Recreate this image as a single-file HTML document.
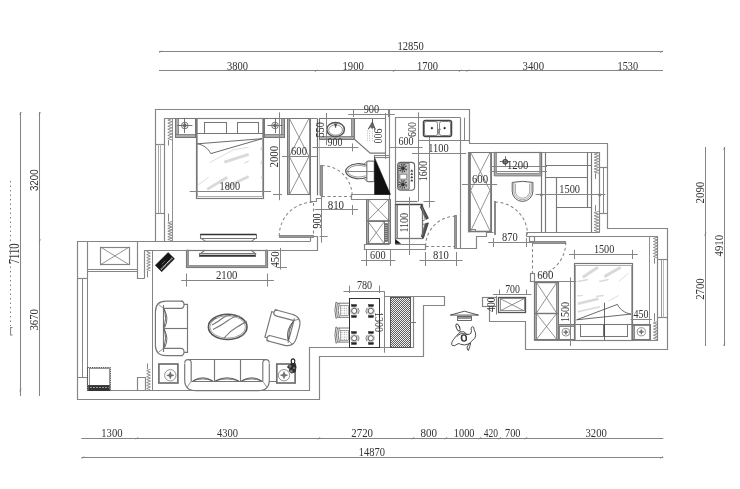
<!DOCTYPE html>
<html lang="zh">
<head>
<meta charset="utf-8">
<title>Floor plan</title>
<style>
html,body{margin:0;padding:0;background:#fff;}
body{width:740px;height:489px;overflow:hidden;}
svg{display:block;filter:grayscale(1);}
</style>
</head>
<body>
<svg width="740" height="489" viewBox="0 0 740 489" fill="none" stroke="#858585" stroke-width="1.17" font-family="Liberation Serif, serif" font-size="10.5">
<defs><pattern id="hatch" x="0" y="0" width="2" height="2" patternUnits="userSpaceOnUse"><rect width="2" height="2" fill="#5e5e5e" stroke="none"/><rect x="0" y="0" width="1" height="1" fill="#eee" stroke="none"/><rect x="1" y="1" width="1" height="1" fill="#eee" stroke="none"/></pattern><pattern id="dots" width="2.4" height="2.4" patternUnits="userSpaceOnUse"><rect x="0.6" y="0.6" width="0.9" height="0.9" fill="#777" stroke="none"/></pattern></defs>
<line x1="159" y1="51.5" x2="663" y2="51.5" stroke-width="1.04"/>
<line x1="159" y1="70.5" x2="663" y2="70.5" stroke-width="1.04"/>
<line x1="314.8" y1="72" x2="317.2" y2="69.6" stroke="#777" stroke-width="0.7"/>
<line x1="392.8" y1="72" x2="395.2" y2="69.6" stroke="#777" stroke-width="0.7"/>
<line x1="458.8" y1="72" x2="461.2" y2="69.6" stroke="#777" stroke-width="0.7"/>
<line x1="466.3" y1="72" x2="468.7" y2="69.6" stroke="#777" stroke-width="0.7"/>
<line x1="159.3" y1="53" x2="161.7" y2="50.6" stroke="#777" stroke-width="0.7"/>
<line x1="660.3" y1="53" x2="662.7" y2="50.6" stroke="#777" stroke-width="0.7"/>
<text stroke="none" fill="#333" x="397.5" y="50.05" textLength="26.3" lengthAdjust="spacingAndGlyphs" font-size="12.3">12850</text>
<text stroke="none" fill="#333" x="227" y="69.85" textLength="21" lengthAdjust="spacingAndGlyphs" font-size="12.3">3800</text>
<text stroke="none" fill="#333" x="342.5" y="69.85" textLength="21.3" lengthAdjust="spacingAndGlyphs" font-size="12.3">1900</text>
<text stroke="none" fill="#333" x="417" y="69.85" textLength="21" lengthAdjust="spacingAndGlyphs" font-size="12.3">1700</text>
<text stroke="none" fill="#333" x="522.5" y="69.85" textLength="21.5" lengthAdjust="spacingAndGlyphs" font-size="12.3">3400</text>
<text stroke="none" fill="#333" x="617.5" y="69.85" textLength="20.5" lengthAdjust="spacingAndGlyphs" font-size="12.3">1530</text>
<line x1="81.3" y1="438.5" x2="663.3" y2="438.5" stroke-width="1.04"/>
<line x1="81.3" y1="457.5" x2="663.3" y2="457.5" stroke-width="1.04"/>
<line x1="135.8" y1="439.4" x2="138.2" y2="437" stroke="#777" stroke-width="0.7"/>
<line x1="317.8" y1="439.4" x2="320.2" y2="437" stroke="#777" stroke-width="0.7"/>
<line x1="411.8" y1="439.4" x2="414.2" y2="437" stroke="#777" stroke-width="0.7"/>
<line x1="444.8" y1="439.4" x2="447.2" y2="437" stroke="#777" stroke-width="0.7"/>
<line x1="478.8" y1="439.4" x2="481.2" y2="437" stroke="#777" stroke-width="0.7"/>
<line x1="498.8" y1="439.4" x2="501.2" y2="437" stroke="#777" stroke-width="0.7"/>
<line x1="524.8" y1="439.4" x2="527.2" y2="437" stroke="#777" stroke-width="0.7"/>
<line x1="81.8" y1="458.7" x2="84.2" y2="456.3" stroke="#777" stroke-width="0.7"/>
<line x1="660.3" y1="458.7" x2="662.7" y2="456.3" stroke="#777" stroke-width="0.7"/>
<text stroke="none" fill="#333" x="101.3" y="436.65" textLength="21.2" lengthAdjust="spacingAndGlyphs" font-size="12.3">1300</text>
<text stroke="none" fill="#333" x="217" y="436.65" textLength="21" lengthAdjust="spacingAndGlyphs" font-size="12.3">4300</text>
<text stroke="none" fill="#333" x="351.3" y="436.65" textLength="21.7" lengthAdjust="spacingAndGlyphs" font-size="12.3">2720</text>
<text stroke="none" fill="#333" x="420.5" y="436.65" textLength="16.5" lengthAdjust="spacingAndGlyphs" font-size="12.3">800</text>
<text stroke="none" fill="#333" x="453.8" y="436.65" textLength="20.7" lengthAdjust="spacingAndGlyphs" font-size="12.3">1000</text>
<text stroke="none" fill="#333" x="483.8" y="436.65" textLength="14.2" lengthAdjust="spacingAndGlyphs" font-size="12.3">420</text>
<text stroke="none" fill="#333" x="505" y="436.65" textLength="15.5" lengthAdjust="spacingAndGlyphs" font-size="12.3">700</text>
<text stroke="none" fill="#333" x="585.5" y="436.65" textLength="21.3" lengthAdjust="spacingAndGlyphs" font-size="12.3">3200</text>
<text stroke="none" fill="#333" x="358.8" y="455.65" textLength="26.2" lengthAdjust="spacingAndGlyphs" font-size="12.3">14870</text>
<line x1="20.5" y1="112" x2="20.5" y2="396" stroke-width="1.04"/>
<line x1="39.5" y1="112" x2="39.5" y2="396" stroke-width="1.04"/>
<line x1="19.2" y1="114.7" x2="21.6" y2="112.3" stroke="#777" stroke-width="0.7"/>
<line x1="38.7" y1="114.7" x2="41.1" y2="112.3" stroke="#777" stroke-width="0.7"/>
<line x1="38.7" y1="241.7" x2="41.1" y2="239.3" stroke="#777" stroke-width="0.7"/>
<line x1="19.2" y1="391.2" x2="21.6" y2="388.8" stroke="#777" stroke-width="0.7"/>
<text stroke="none" fill="#333" transform="translate(38 191.1) rotate(-90)" textLength="21.7" lengthAdjust="spacingAndGlyphs" font-size="11.4" font-family="Liberation Sans, sans-serif">3200</text>
<text stroke="none" fill="#333" transform="translate(37.92 330.6) rotate(-90)" textLength="21.6" lengthAdjust="spacingAndGlyphs" font-size="12.3">3670</text>
<text stroke="none" fill="#333" transform="translate(19.29 264.3) rotate(-90)" textLength="20.8" lengthAdjust="spacingAndGlyphs" font-size="14">7110</text>
<line x1="10.5" y1="181" x2="10.5" y2="326" stroke="#6a6a6a" stroke-width="0.9" stroke-dasharray="1.4 3.1"/>
<path d="M12.5 327.5H10.6V335H12.5" stroke-width="1.04"/>
<line x1="705.5" y1="147" x2="705.5" y2="346" stroke-width="1.04"/>
<line x1="724.5" y1="147" x2="724.5" y2="346" stroke-width="1.04"/>
<line x1="722.9" y1="149.7" x2="725.3" y2="147.3" stroke="#777" stroke-width="0.7"/>
<line x1="722.9" y1="345.7" x2="725.3" y2="343.3" stroke="#777" stroke-width="0.7"/>
<line x1="704.1" y1="235.4" x2="706.5" y2="233" stroke="#777" stroke-width="0.7"/>
<text stroke="none" fill="#333" transform="translate(704.12 203.4) rotate(-90)" textLength="21.7" lengthAdjust="spacingAndGlyphs" font-size="12.3">2090</text>
<text stroke="none" fill="#333" transform="translate(722.92 256.4) rotate(-90)" textLength="21.4" lengthAdjust="spacingAndGlyphs" font-size="12.3">4910</text>
<text stroke="none" fill="#333" transform="translate(704.12 299.8) rotate(-90)" textLength="21.4" lengthAdjust="spacingAndGlyphs" font-size="12.3">2700</text>
<polyline points="155.5,241.5 155.5,109.5 469.5,109.5 469.5,143.5 607.5,143.5 607.5,228.5 667.5,228.5 667.5,349.5 525.5,349.5 525.5,321.5 489.5,321.5 489.5,306.5"/>
<polyline points="384.5,296.5 444.5,296.5 444.5,305.5 423.5,305.5 423.5,356.5 319.5,356.5 319.5,399.5 77.5,399.5 77.5,241.5 310.5,241.5"/>
<polyline points="87.5,390.5 309.5,390.5 309.5,347.5 413.5,347.5 413.5,296.5"/>
<polyline points="164.5,241.5 164.5,118.5 317.5,118.5"/>
<line x1="317.5" y1="118.4" x2="317.5" y2="195.3" stroke="#707070" stroke-width="1.2"/>
<line x1="319.5" y1="118.4" x2="319.5" y2="195.3" stroke="#c4c4c4" stroke-width="1"/>
<polyline points="310.5,194.5 310.5,201.5 316.5,201.5 316.5,198.5 321.5,198.5 321.5,195.5"/>
<polyline points="144.5,278.5 144.5,250.5 317.5,250.5 317.5,236.5 310.5,236.5 310.5,241.5"/>
<line x1="155.5" y1="144.5" x2="164.4" y2="144.5"/>
<line x1="155.5" y1="213.5" x2="164.4" y2="213.5"/>
<line x1="158.5" y1="144.2" x2="158.5" y2="213.3" stroke="#a8a8a8" stroke-width="1"/>
<line x1="160.5" y1="144.2" x2="160.5" y2="213.3" stroke="#b4b4b4" stroke-width="1"/>
<line x1="319.2" y1="118.5" x2="385" y2="118.5"/>
<line x1="385.5" y1="118.4" x2="385.5" y2="155.6"/>
<line x1="389.5" y1="109.4" x2="389.5" y2="244.4"/>
<polyline points="374.5,157.5 374.5,155.5 389.5,155.5"/>
<line x1="374.5" y1="157.5" x2="389.3" y2="157.5"/>
<polyline points="389.5,194.5 351.5,194.5 351.5,199.5 389.5,199.5"/>
<line x1="395.5" y1="117.7" x2="395.5" y2="244.4"/>
<line x1="395" y1="117.5" x2="460.4" y2="117.5"/>
<line x1="460.5" y1="117.7" x2="460.5" y2="248.5"/>
<line x1="464.5" y1="117.7" x2="464.5" y2="140.9" stroke-width="1.04"/>
<line x1="418.1" y1="140.5" x2="469.4" y2="140.5"/>
<polyline points="389.5,244.5 364.5,244.5 364.5,249.5 425.5,249.5 425.5,244.5 395.5,244.5"/>
<line x1="425.7" y1="246.5" x2="454.9" y2="246.5" stroke-width="1.04" stroke-dasharray="3 2.5"/>
<polyline points="456.5,248.5 476.5,248.5 476.5,236.5 486.5,236.5 486.5,232.5 493.5,232.5"/>
<polyline points="468.5,232.5 468.5,152.5 599.5,152.5 599.5,232.5"/>
<line x1="526.5" y1="232.5" x2="599.7" y2="232.5"/>
<line x1="526.5" y1="236.5" x2="657.9" y2="236.5"/>
<line x1="526.5" y1="232.6" x2="526.5" y2="236.7"/>
<line x1="599.7" y1="167.5" x2="607.7" y2="167.5"/>
<line x1="599.7" y1="213.5" x2="607.7" y2="213.5"/>
<line x1="603.5" y1="167.3" x2="603.5" y2="213" stroke-width="1.04"/>
<polyline points="657.5,236.5 657.5,340.5 534.5,340.5 534.5,281.5"/>
<rect x="529.5" y="236.5" width="5" height="5"/>
<rect x="530.5" y="273.5" width="4" height="8"/>
<line x1="532.5" y1="243.4" x2="532.5" y2="273.8" stroke-width="1.04" stroke-dasharray="3 2.5"/>
<line x1="657.9" y1="259.5" x2="667.4" y2="259.5"/>
<line x1="657.9" y1="317.5" x2="667.4" y2="317.5"/>
<line x1="661.5" y1="259.9" x2="661.5" y2="317.4" stroke="#999" stroke-width="1"/>
<line x1="663.5" y1="259.9" x2="663.5" y2="317.4" stroke="#bbb" stroke-width="1"/>
<rect x="482.5" y="297.5" width="14" height="9"/>
<line x1="87.5" y1="241.2" x2="87.5" y2="278.1"/>
<line x1="77.8" y1="278.5" x2="87.6" y2="278.5"/>
<line x1="82.5" y1="278.1" x2="82.5" y2="377.4" stroke-width="1.04"/>
<line x1="87.5" y1="278.1" x2="87.5" y2="377.4" stroke-width="1.04"/>
<polyline points="77.5,377.5 87.5,377.5 87.5,390.5"/>
<line x1="87.6" y1="269.5" x2="137.4" y2="269.5"/>
<line x1="87.6" y1="271.5" x2="137.4" y2="271.5"/>
<polyline points="137.5,241.5 137.5,278.5 144.5,278.5"/>
<polyline points="137.5,390.5 137.5,377.5 145.5,377.5 145.5,390.5"/>
<line x1="152.5" y1="250" x2="152.5" y2="390.3" stroke-width="1.04"/>
<rect x="100.5" y="247.5" width="29" height="17"/>
<line x1="100.6" y1="247.1" x2="129.1" y2="264.7" stroke="#777" stroke-width="0.8"/>
<line x1="100.6" y1="264.7" x2="129.1" y2="247.1" stroke="#777" stroke-width="0.8"/>
<polyline points="172,118.6 167.8,120.13 172,121.66 167.8,123.19 172,124.71 167.8,126.24 172,127.77 167.8,129.3 172,130.83 167.8,132.36 172,133.89 167.8,135.41 172,136.94 167.8,138.47 172,140" stroke-width="0.91"/>
<line x1="168.5" y1="140" x2="168.5" y2="145.5" stroke-width="1.04"/>
<polyline points="172,221.5 167.8,222.88 172,224.26 167.8,225.64 172,227.01 167.8,228.39 172,229.77 167.8,231.15 172,232.53 167.8,233.91 172,235.29 167.8,236.66 172,238.04 167.8,239.42 172,240.8" stroke-width="0.91"/>
<line x1="168.5" y1="213.6" x2="168.5" y2="221.5" stroke-width="1.04"/>
<line x1="172.5" y1="118.4" x2="172.5" y2="241.2" stroke-width="0.91"/>
<polyline points="598.8,152.8 594.2,154.26 598.8,155.73 594.2,157.19 598.8,158.66 594.2,160.12 598.8,161.59 594.2,163.05 598.8,164.51 594.2,165.98 598.8,167.44 594.2,168.91 598.8,170.37 594.2,171.84 598.8,173.3" stroke-width="0.91"/>
<line x1="595.5" y1="173.3" x2="595.5" y2="179" stroke-width="1.04"/>
<polyline points="598.8,211.3 594.2,212.78 598.8,214.26 594.2,215.74 598.8,217.21 594.2,218.69 598.8,220.17 594.2,221.65 598.8,223.13 594.2,224.61 598.8,226.09 594.2,227.56 598.8,229.04 594.2,230.52 598.8,232" stroke-width="0.91"/>
<line x1="595.5" y1="205.1" x2="595.5" y2="211.3" stroke-width="1.04"/>
<polyline points="657.6,237 653.4,238.49 657.6,239.99 653.4,241.48 657.6,242.97 653.4,244.46 657.6,245.96 653.4,247.45 657.6,248.94 653.4,250.44 657.6,251.93 653.4,253.42 657.6,254.91 653.4,256.41 657.6,257.9" stroke-width="0.91"/>
<line x1="654.5" y1="257.9" x2="654.5" y2="263.7" stroke-width="1.04"/>
<polyline points="657.6,321.5 653.4,323.02 657.6,324.55 653.4,326.07 657.6,327.6 653.4,329.12 657.6,330.65 653.4,332.18 657.6,333.7 653.4,335.23 657.6,336.75 653.4,338.28 657.6,339.8" stroke-width="0.91"/>
<line x1="654.5" y1="313.3" x2="654.5" y2="321.5" stroke-width="1.04"/>
<line x1="649.5" y1="236.7" x2="649.5" y2="340.2" stroke-width="0.91"/>
<polyline points="150.4,250.2 146.7,251.67 150.4,253.14 146.7,254.61 150.4,256.09 146.7,257.56 150.4,259.03 146.7,260.5 150.4,261.97 146.7,263.44 150.4,264.91 146.7,266.39 150.4,267.86 146.7,269.33 150.4,270.8" stroke-width="0.91"/>
<line x1="147.5" y1="270.8" x2="147.5" y2="277.3" stroke-width="1.04"/>
<polyline points="150.4,369.2 146.7,370.68 150.4,372.16 146.7,373.64 150.4,375.11 146.7,376.59 150.4,378.07 146.7,379.55 150.4,381.03 146.7,382.51 150.4,383.99 146.7,385.46 150.4,386.94 146.7,388.42 150.4,389.9" stroke-width="0.91"/>
<line x1="147.5" y1="363.5" x2="147.5" y2="369.2" stroke-width="1.04"/>
<rect x="279.5" y="235.5" width="34" height="2" stroke-width="0.91" fill="#999"/>
<path d="M279.2 236 A33.8 33.8 0 0 1 313 202.2" stroke-width="1.04" stroke-dasharray="3 2.5"/>
<line x1="313.5" y1="203" x2="313.5" y2="235" stroke-width="1.04" stroke-dasharray="3 2.5"/>
<rect x="320.5" y="165.5" width="2" height="30" stroke-width="0.91" fill="#999"/>
<path d="M321.7 165.5 A30.5 30.5 0 0 1 352.2 196" stroke-width="1.04" stroke-dasharray="3 2.5"/>
<line x1="322" y1="196.5" x2="351.5" y2="196.5" stroke-width="1.04" stroke-dasharray="3 2.5"/>
<rect x="454.5" y="215.5" width="2" height="33" stroke-width="0.91" fill="#999"/>
<path d="M455.6 216.3 A30 30 0 0 0 425.6 246.3" stroke-width="1.04" stroke-dasharray="3 2.5"/>
<rect x="494.5" y="201.5" width="1" height="33" stroke-width="0.91" fill="#999"/>
<path d="M495 202.1 A32.5 32.5 0 0 1 527.5 234.6" stroke-width="1.04" stroke-dasharray="3 2.5"/>
<rect x="532.5" y="241.5" width="33" height="2" stroke-width="0.91" fill="#999"/>
<path d="M565.8 242.4 A33.5 33.5 0 0 1 539.27 275.17" stroke-width="1.04" stroke-dasharray="3 2.5"/>
<g stroke="#777">
<rect x="175.5" y="118.5" width="3" height="19" stroke-width="0.78" fill="#ababab"/>
<rect x="175.5" y="134.5" width="20" height="3" stroke-width="0.78" fill="#ababab"/>
<rect x="175.5" y="118.5" width="20" height="19" stroke-width="1.04"/>
<circle cx="184.8" cy="125.5" r="3.3" stroke="#666" stroke-width="0.9"/>
<circle cx="184.8" cy="125.5" r="1.48" stroke="#555" stroke-width="0.8" fill="#666"/>
<line x1="177.2" y1="125.5" x2="192.4" y2="125.5" stroke="#666" stroke-width="0.9"/>
<line x1="184.5" y1="117.9" x2="184.5" y2="133.1" stroke="#666" stroke-width="0.9"/>
<rect x="281.5" y="118.5" width="3" height="19" stroke-width="0.78" fill="#ababab"/>
<rect x="264.5" y="134.5" width="20" height="3" stroke-width="0.78" fill="#ababab"/>
<rect x="264.5" y="118.5" width="20" height="19" stroke-width="1.04"/>
<circle cx="275" cy="125.5" r="3.3" stroke="#666" stroke-width="0.9"/>
<circle cx="275" cy="125.5" r="1.48" stroke="#555" stroke-width="0.8" fill="#666"/>
<line x1="267.4" y1="125.5" x2="282.6" y2="125.5" stroke="#666" stroke-width="0.9"/>
<line x1="275.5" y1="117.9" x2="275.5" y2="133.1" stroke="#666" stroke-width="0.9"/>
<rect x="196.5" y="118.5" width="67" height="80" stroke-width="1.17"/>
<rect x="197.5" y="118.5" width="65" height="78" stroke="#888" stroke-width="0.7"/>
<line x1="196.3" y1="133.5" x2="263.3" y2="133.5"/>
<rect x="204.5" y="122.5" width="22" height="11" stroke-width="1.04"/>
<rect x="237.5" y="122.5" width="21" height="11" stroke-width="1.04"/>
<path d="M197.6 143.8 L262 138.7 L210.8 153.6 C207.5 147.5 203 145 197.6 143.8Z" stroke="#444" stroke-width="0.8"/>
<line x1="209.3" y1="162.9" x2="232.9" y2="150" stroke="#d9d9d9" stroke-width="0.9"/>
<line x1="232.9" y1="150" x2="248.7" y2="147.2" stroke="#d9d9d9" stroke-width="0.9"/>
<line x1="224.3" y1="162.2" x2="248.7" y2="154.3" stroke="#d9d9d9" stroke-width="2.8"/>
<line x1="244.4" y1="163.2" x2="248.7" y2="161" stroke="#d9d9d9" stroke-width="1.2"/>
<line x1="197.9" y1="185.1" x2="208.6" y2="177.2" stroke="#d9d9d9" stroke-width="0.9"/>
<line x1="207.2" y1="189.4" x2="227.2" y2="177.2" stroke="#d9d9d9" stroke-width="2.8"/>
<line x1="225.8" y1="187.2" x2="248.7" y2="176.5" stroke="#d9d9d9" stroke-width="2.8"/>
<line x1="260.8" y1="150" x2="262" y2="146.5" stroke="#d9d9d9" stroke-width="1.2"/>
<line x1="260.8" y1="164" x2="262" y2="160.5" stroke="#d9d9d9" stroke-width="1.2"/>
<line x1="261" y1="178.5" x2="262" y2="176" stroke="#d9d9d9" stroke-width="1.2"/>
<rect x="200.5" y="234.5" width="56" height="4" stroke-width="1.04"/>
<line x1="200.4" y1="234.5" x2="256.2" y2="234.5" stroke="#333" stroke-width="1.3"/>
<polyline points="201.5,238.6 205.4,241.2 251.6,241.2 255.2,238.6" stroke-width="1.04"/>
<rect x="287.5" y="118.5" width="2" height="76" stroke-width="0.78" fill="#ababab"/>
<rect x="309.5" y="118.5" width="1" height="76" stroke-width="0.78" fill="#ababab"/>
<rect x="287.5" y="118.5" width="23" height="76" stroke-width="1.04"/>
<line x1="289.3" y1="118.4" x2="309" y2="156.4" stroke="#777" stroke-width="0.8"/>
<line x1="289.3" y1="156.4" x2="309" y2="118.4" stroke="#777" stroke-width="0.8"/>
<line x1="289.3" y1="156.4" x2="309" y2="194.8" stroke="#777" stroke-width="0.8"/>
<line x1="289.3" y1="194.8" x2="309" y2="156.4" stroke="#777" stroke-width="0.8"/>
<rect x="351.5" y="118.5" width="3" height="21" stroke-width="0.78" fill="#ababab"/>
<rect x="319.5" y="136.5" width="35" height="3" stroke-width="0.78" fill="#ababab"/>
<rect x="319.5" y="118.5" width="35" height="21" stroke-width="1.04"/>
<ellipse cx="335.6" cy="129.5" rx="8.8" ry="7.1" stroke="#555" stroke-width="1.5"/>
<ellipse cx="335.6" cy="130" rx="6.9" ry="5.2" stroke-width="0.78"/>
<polygon points="334.4,123.8 336.8,123.8 335.6,128" stroke="#444" stroke-width="0.4" fill="#444"/>
<polyline points="354.4,118.4 354.4,139.2 370.2,153.1 385,153.1" stroke-width="1.17"/>
<line x1="372.5" y1="119" x2="372.5" y2="125" stroke="#555" stroke-width="0.9"/>
<polygon points="372.4,121.8 368.2,129.2 370.4,127 372.4,128.6 374.2,127 375.2,129.2" stroke="#444" stroke-width="0.7" fill="#666"/>
<line x1="367.5" y1="130.5" x2="367.5" y2="141" stroke="#c4c4c4" stroke-width="1" stroke-dasharray="1.2 1.2"/>
<line x1="369.5" y1="130.5" x2="369.5" y2="141" stroke="#c4c4c4" stroke-width="1" stroke-dasharray="1.2 1.2"/>
<line x1="372.5" y1="130.5" x2="372.5" y2="141" stroke="#c4c4c4" stroke-width="1" stroke-dasharray="1.2 1.2"/>
<path d="M366.8 165.2 C360 162.6 352.5 163.4 348.6 166.6 Q345.6 169 345.6 171.1 Q345.6 173.4 348.6 175.8 C352.5 179 360 179.8 366.8 177.2" stroke="#555" stroke-width="1.2"/>
<path d="M365.6 166.6 C359.5 164.6 353.5 165.2 350 167.8 Q347.6 169.6 347.6 171.1 Q347.6 172.8 350 174.6 C353.5 177.2 359.5 177.8 365.6 175.8" stroke-width="0.78"/>
<line x1="345.6" y1="171.5" x2="374.3" y2="171.5" stroke-width="0.91"/>
<rect x="366.8" y="161.2" width="7.5" height="20.5" stroke-width="1.17" rx="1.2"/>
<path d="M363.4 164.2 L366.8 161.8 M363.4 178.2 L366.8 181" stroke-width="0.91"/>
<polygon points="374.5,157.5 374.5,194.5 390.5,194.5" stroke="#111" stroke-width="0.5" fill="#111"/>
<rect x="366.5" y="199.5" width="2" height="44" stroke-width="0.78" fill="#ababab"/>
<rect x="388.5" y="199.5" width="2" height="44" stroke-width="0.78" fill="#ababab"/>
<rect x="366.5" y="199.5" width="24" height="44" stroke-width="1.04"/>
<rect x="366.5" y="220.5" width="24" height="1" stroke-width="0.78" fill="#ababab"/>
<line x1="368.2" y1="199.6" x2="388.2" y2="220" stroke="#777" stroke-width="0.8"/>
<line x1="368.2" y1="220" x2="388.2" y2="199.6" stroke="#777" stroke-width="0.8"/>
<rect x="368.5" y="221.5" width="16" height="22" stroke-width="0.91"/>
<line x1="368.2" y1="221.8" x2="384.2" y2="243.5" stroke="#777" stroke-width="0.8"/>
<line x1="368.2" y1="243.5" x2="384.2" y2="221.8" stroke="#777" stroke-width="0.8"/>
<rect x="384.5" y="223.5" width="3" height="18" stroke-width="0.78" fill="#aaa"/>
<line x1="384.6" y1="224.5" x2="387.6" y2="224.5" stroke="#444" stroke-width="0.6"/>
<line x1="384.6" y1="226.5" x2="387.6" y2="226.5" stroke="#444" stroke-width="0.6"/>
<line x1="384.6" y1="228.5" x2="387.6" y2="228.5" stroke="#444" stroke-width="0.6"/>
<line x1="384.6" y1="230.5" x2="387.6" y2="230.5" stroke="#444" stroke-width="0.6"/>
<line x1="384.6" y1="232.5" x2="387.6" y2="232.5" stroke="#444" stroke-width="0.6"/>
<line x1="384.6" y1="234.5" x2="387.6" y2="234.5" stroke="#444" stroke-width="0.6"/>
<line x1="384.6" y1="236.5" x2="387.6" y2="236.5" stroke="#444" stroke-width="0.6"/>
<line x1="384.6" y1="238.5" x2="387.6" y2="238.5" stroke="#444" stroke-width="0.6"/>
<line x1="384.6" y1="240.5" x2="387.6" y2="240.5" stroke="#444" stroke-width="0.6"/>
<polyline points="395.5,201.5 417.5,201.5" stroke-width="1.17"/>
<rect x="423.5" y="120.5" width="28" height="16" stroke="#444" stroke-width="1.5" rx="2"/>
<rect x="424.5" y="121.5" width="13" height="14" stroke-width="0.91" rx="2"/>
<rect x="439.5" y="121.5" width="11" height="14" stroke-width="0.91" rx="2"/>
<circle cx="431.9" cy="128.1" r="0.9" stroke="#111" stroke-width="0.4" fill="#111"/>
<circle cx="444.6" cy="128.1" r="0.9" stroke="#111" stroke-width="0.4" fill="#111"/>
<path d="M438.3 134.5 V130.5 C438.3 128.3 440.3 128 440.6 129.6" stroke="#666" stroke-width="0.9"/>
<rect x="397.6" y="162.4" width="17" height="27.9" stroke="#666" stroke-width="1.1" rx="3.2"/>
<path d="M409.2 163.4 H400.6 Q398.6 163.4 398.6 165.4 V187.3 Q398.6 189.3 400.6 189.3 H409.2Z" stroke="#666" stroke-width="0.8" fill="#c4c4c4"/>
<circle cx="402.9" cy="168.2" r="3.6" stroke="#444" stroke-width="1.6" fill="#8a8a8a"/>
<circle cx="402.9" cy="168.2" r="1.5" stroke="#222" stroke-width="0.5" fill="#333"/>
<circle cx="402.9" cy="168.2" r="3.6" stroke="#ddd" stroke-width="1.6" stroke-dasharray="0.9 1.4"/>
<circle cx="402.9" cy="184.4" r="3.6" stroke="#444" stroke-width="1.6" fill="#8a8a8a"/>
<circle cx="402.9" cy="184.4" r="1.5" stroke="#222" stroke-width="0.5" fill="#333"/>
<circle cx="402.9" cy="184.4" r="3.6" stroke="#ddd" stroke-width="1.6" stroke-dasharray="0.9 1.4"/>
<rect x="399.9" y="174.2" width="6.9" height="4.9" stroke="#666" stroke-width="0.7" fill="#fff"/>
<polygon points="410.6,171.6 411.8,169.6 413,171.6" stroke="#333" stroke-width="0.3" fill="#333"/>
<polygon points="410.6,174.8 411.8,172.8 413,174.8" stroke="#333" stroke-width="0.3" fill="#333"/>
<polygon points="410.6,178 411.8,176 413,178" stroke="#333" stroke-width="0.3" fill="#333"/>
<polygon points="410.6,181.2 411.8,179.2 413,181.2" stroke="#333" stroke-width="0.3" fill="#333"/>
<rect x="395.5" y="204.5" width="27" height="34" stroke-width="1.3"/>
<rect x="395.5" y="204.5" width="2" height="34" stroke-width="0.78" fill="#ababab"/>
<line x1="395.6" y1="204.5" x2="422" y2="204.5" stroke="#444" stroke-width="1.3"/>
<polygon points="421.6,204.6 428.4,218.2 426.3,219.3 420.4,207.4" stroke="#333" stroke-width="0.8" fill="#555"/>
<polygon points="428.4,222.9 423.4,238.2 421.4,236.4 425.6,223.6" stroke="#333" stroke-width="0.8" fill="#555"/>
<polyline points="422,207 425.2,219.6 422,221.4" stroke-width="0.91"/>
<polyline points="422,224.5 425,224 422,236" stroke-width="0.91"/>
<polygon points="395.5,239.5 395.5,243.5 400.5,243.5" stroke="#111" stroke-width="0.5" fill="#111"/>
<rect x="469.5" y="152.5" width="1" height="79" stroke-width="0.78" fill="#ababab"/>
<rect x="490.5" y="152.5" width="1" height="79" stroke-width="0.78" fill="#ababab"/>
<rect x="469.5" y="152.5" width="22" height="79" stroke-width="1.04"/>
<line x1="469.1" y1="231.5" x2="491.6" y2="231.5" stroke-width="1.56"/>
<line x1="470.7" y1="152.6" x2="490" y2="190.4" stroke="#777" stroke-width="0.8"/>
<line x1="470.7" y1="190.4" x2="490" y2="152.6" stroke="#777" stroke-width="0.8"/>
<line x1="470.7" y1="190.4" x2="490" y2="231" stroke="#777" stroke-width="0.8"/>
<line x1="470.7" y1="231" x2="490" y2="190.4" stroke="#777" stroke-width="0.8"/>
<rect x="469.5" y="229.5" width="6" height="2" stroke-width="0.91"/>
<rect x="494.5" y="152.5" width="47" height="23" stroke-width="1.17"/>
<path d="M494.3 152.6 V175.9 H541.6 V152.6 H539.8 V173.4 H496.4 V152.6Z" stroke-width="0.78" fill="#ababab"/>
<circle cx="505.2" cy="161.7" r="2.2" stroke="#666" stroke-width="0.9"/>
<circle cx="505.2" cy="161.7" r="0.99" stroke="#555" stroke-width="0.8" fill="#666"/>
<line x1="499.8" y1="161.5" x2="510.6" y2="161.5" stroke="#666" stroke-width="0.9"/>
<line x1="505.5" y1="156.3" x2="505.5" y2="167.1" stroke="#666" stroke-width="0.9"/>
<circle cx="505.2" cy="161.7" r="2.2" stroke="#444" stroke-width="1.1"/>
<path d="M512.2 182.4 V191.05 A10.35 10.35 0 0 0 532.9 191.05 V182.4" stroke="#5a5a5a" stroke-width="1"/>
<path d="M513.8 183 V191.05 A8.75 8.75 0 0 0 531.3 191.05 V183" stroke="#808080" stroke-width="0.7"/>
<path d="M515.4 183.6 V191.05 A7.15 7.15 0 0 0 529.7 191.05 V183.6" stroke="#808080" stroke-width="0.7"/>
<path d="M512.2 182.4 Q522.5 180.3 532.9 182.4" stroke="#5a5a5a" stroke-width="1"/>
<line x1="541.5" y1="152.6" x2="541.5" y2="232.6"/>
<line x1="545.5" y1="152.6" x2="545.5" y2="232.6"/>
<line x1="545" y1="165.5" x2="591.6" y2="165.5"/>
<line x1="545" y1="177.5" x2="587.4" y2="177.5"/>
<line x1="556.5" y1="177.3" x2="556.5" y2="232.6"/>
<line x1="587.5" y1="152.6" x2="587.5" y2="207.2"/>
<line x1="591.5" y1="152.6" x2="591.5" y2="232.6"/>
<line x1="556.4" y1="207.5" x2="591.8" y2="207.5"/>
<rect x="534.5" y="282.5" width="2" height="57" stroke-width="0.78" fill="#ababab"/>
<rect x="556.5" y="282.5" width="2" height="57" stroke-width="0.78" fill="#ababab"/>
<rect x="534.5" y="282.5" width="24" height="57" stroke-width="1.04"/>
<line x1="534.7" y1="282.5" x2="558.4" y2="282.5" stroke-width="1.43"/>
<line x1="534.7" y1="313.5" x2="558.4" y2="313.5" stroke-width="1.43"/>
<line x1="536.3" y1="282.3" x2="556.8" y2="313.3" stroke="#777" stroke-width="0.8"/>
<line x1="536.3" y1="313.3" x2="556.8" y2="282.3" stroke="#777" stroke-width="0.8"/>
<line x1="536.3" y1="313.3" x2="556.8" y2="339.6" stroke="#777" stroke-width="0.8"/>
<line x1="536.3" y1="339.6" x2="556.8" y2="313.3" stroke="#777" stroke-width="0.8"/>
<rect x="558.5" y="324.5" width="1" height="15" stroke-width="0.78" fill="#ababab"/>
<rect x="558.5" y="324.5" width="16" height="2" stroke-width="0.78" fill="#ababab"/>
<rect x="558.5" y="324.5" width="16" height="15" stroke-width="1.04"/>
<circle cx="565.9" cy="332.2" r="3.9" stroke="#777" stroke-width="0.8"/>
<path d="M565.9 329.78 L566.53 331.57 L568.32 332.2 L566.53 332.83 L565.9 334.62 L565.27 332.83 L563.48 332.2 L565.27 331.57Z" stroke="#555" stroke-width="0.5" fill="#666"/>
<circle cx="565.9" cy="332.2" r="0.5" fill="#bbb"/>
<rect x="632.5" y="324.5" width="2" height="15" stroke-width="0.78" fill="#ababab"/>
<rect x="632.5" y="324.5" width="18" height="1" stroke-width="0.78" fill="#ababab"/>
<rect x="632.5" y="324.5" width="18" height="15" stroke-width="1.04"/>
<circle cx="641.3" cy="331.8" r="4.1" stroke="#777" stroke-width="0.8"/>
<path d="M641.3 329.26 L641.96 331.14 L643.84 331.8 L641.96 332.46 L641.3 334.34 L640.64 332.46 L638.76 331.8 L640.64 331.14Z" stroke="#555" stroke-width="0.5" fill="#666"/>
<circle cx="641.3" cy="331.8" r="0.5" fill="#bbb"/>
<rect x="574.5" y="263.5" width="58" height="77" stroke-width="1.17"/>
<rect x="575.5" y="265.5" width="56" height="75" stroke="#888" stroke-width="0.7"/>
<line x1="574.5" y1="324.5" x2="632.8" y2="324.5"/>
<rect x="580.5" y="324.5" width="23" height="12" stroke-width="1.04"/>
<rect x="604.5" y="324.5" width="23" height="12" stroke-width="1.04"/>
<line x1="604.5" y1="302.7" x2="604.5" y2="340" stroke="#444" stroke-width="0.8"/>
<path d="M576.6 319.8 L617.4 304.4 C620 309.8 625 313 631 314.1Z" stroke="#444" stroke-width="0.8"/>
<line x1="582.9" y1="277.3" x2="597.9" y2="267.3" stroke="#d9d9d9" stroke-width="3"/>
<line x1="577.9" y1="281.6" x2="587.9" y2="279.5" stroke="#d9d9d9" stroke-width="1.5"/>
<line x1="604.4" y1="276.6" x2="620.8" y2="267.3" stroke="#d9d9d9" stroke-width="3"/>
<line x1="599.3" y1="281.6" x2="608.6" y2="279.5" stroke="#d9d9d9" stroke-width="1.5"/>
<line x1="618.7" y1="281.6" x2="628.7" y2="273" stroke="#d9d9d9" stroke-width="0.9"/>
<line x1="577.2" y1="295.9" x2="582.9" y2="295.5" stroke="#d9d9d9" stroke-width="1.2"/>
<line x1="595.8" y1="296.6" x2="603.6" y2="295.5" stroke="#d9d9d9" stroke-width="1.5"/>
<line x1="577.9" y1="303.8" x2="598.6" y2="298.8" stroke="#d9d9d9" stroke-width="2.5"/>
<line x1="608.6" y1="300.9" x2="618.7" y2="295.5" stroke="#d9d9d9" stroke-width="0.9"/>
<line x1="577.9" y1="311.7" x2="600" y2="306.7" stroke="#d9d9d9" stroke-width="1.5"/>
<rect x="498.5" y="297.5" width="27" height="15" stroke="#555" stroke-width="1.3"/>
<rect x="500.5" y="298.5" width="24" height="12" stroke-width="0.78"/>
<line x1="500" y1="298.6" x2="524.3" y2="310.9" stroke="#777" stroke-width="0.8"/>
<line x1="500" y1="310.9" x2="524.3" y2="298.6" stroke="#777" stroke-width="0.8"/>
<polygon points="450.3,315.1 464.4,311.2 478.5,315.1" stroke="#444" stroke-width="0.9"/>
<rect x="457.5" y="316.5" width="14" height="4" stroke="#444" stroke-width="0.8"/>
<line x1="457.2" y1="317.5" x2="471.7" y2="317.5" stroke-width="0.78"/>
<line x1="457.2" y1="318.5" x2="471.7" y2="318.5" stroke-width="0.78"/>
<g transform="translate(445 305) scale(0.1023)" stroke="#333" stroke-width="8.5" stroke-linejoin="round" stroke-linecap="round">
<ellipse cx="127" cy="220" rx="16" ry="38" transform="rotate(-22 127 220)"/>
<ellipse cx="186" cy="322" rx="23" ry="31" stroke-width="12" transform="rotate(-8 186 322)"/>
<path d="M118 306 Q150 262 215 288 M150 262 Q188 248 212 284 M160 300 Q150 330 166 352 M203 300 Q216 322 206 346"/>
<path d="M150 262 Q110 300 85 335 Q55 375 70 395 Q90 408 125 380 Q140 372 152 384 Q190 400 235 380"/>
<path d="M215 288 Q245 290 255 275 Q262 250 255 232 Q258 212 272 212 Q288 218 284 240 Q302 270 300 300 Q296 330 270 345 Q250 360 235 380"/>
<path d="M250 372 Q245 410 228 445 Q214 432 216 412 Q222 398 235 380"/>
</g>
<rect x="349.5" y="298.5" width="30" height="49" stroke="#333" stroke-width="1"/>
<circle cx="354.2" cy="310.9" r="2.6" stroke="#444" stroke-width="0.9"/>
<circle cx="354.2" cy="310.9" r="3.7" stroke="#888" stroke-width="0.5"/>
<rect x="351.5" y="304.5" width="5" height="2" stroke="#222" stroke-width="0.4" fill="#222"/>
<rect x="351.5" y="315.5" width="5" height="2" stroke="#222" stroke-width="0.4" fill="#222"/>
<path d="M357.8 307.9 q2.4 2.5 0.4 6" stroke-width="0.91"/>
<circle cx="354.2" cy="338.2" r="2.6" stroke="#444" stroke-width="0.9"/>
<circle cx="354.2" cy="338.2" r="3.7" stroke="#888" stroke-width="0.5"/>
<rect x="351.5" y="331.5" width="5" height="2" stroke="#222" stroke-width="0.4" fill="#222"/>
<rect x="351.5" y="342.5" width="5" height="2" stroke="#222" stroke-width="0.4" fill="#222"/>
<path d="M357.8 335.2 q2.4 2.5 0.4 6" stroke-width="0.91"/>
<circle cx="370.8" cy="310.9" r="2.6" stroke="#444" stroke-width="0.9"/>
<circle cx="370.8" cy="310.9" r="3.7" stroke="#888" stroke-width="0.5"/>
<rect x="368.5" y="304.5" width="5" height="2" stroke="#222" stroke-width="0.4" fill="#222"/>
<rect x="368.5" y="315.5" width="5" height="2" stroke="#222" stroke-width="0.4" fill="#222"/>
<path d="M367.2 307.9 q-2.4 2.5 -0.4 6" stroke-width="0.91"/>
<circle cx="370.8" cy="338.2" r="2.6" stroke="#444" stroke-width="0.9"/>
<circle cx="370.8" cy="338.2" r="3.7" stroke="#888" stroke-width="0.5"/>
<rect x="368.5" y="331.5" width="5" height="2" stroke="#222" stroke-width="0.4" fill="#222"/>
<rect x="368.5" y="342.5" width="5" height="2" stroke="#222" stroke-width="0.4" fill="#222"/>
<path d="M367.2 335.2 q-2.4 2.5 -0.4 6" stroke-width="0.91"/>
<path d="M349 303.2 H337.4 Q335.6 310.2 337.4 317.3 H349" stroke="#666" stroke-width="0.9"/>
<path d="M339.4 303.2 Q336.8 310.2 339.4 317.3" stroke="#666" stroke-width="0.9"/>
<path d="M337.4 303.2 L336 302 Q333.8 310.2 336 318.5 L337.4 317.3" stroke="#666" stroke-width="0.9"/>
<rect x="340.5" y="305.5" width="8" height="10" stroke-width="0.65" fill="url(#dots)"/>
<path d="M349 328 H337.4 Q335.6 335 337.4 342.1 H349" stroke="#666" stroke-width="0.9"/>
<path d="M339.4 328 Q336.8 335 339.4 342.1" stroke="#666" stroke-width="0.9"/>
<path d="M337.4 328 L336 326.8 Q333.8 335 336 343.3 L337.4 342.1" stroke="#666" stroke-width="0.9"/>
<rect x="340.5" y="330.5" width="8" height="10" stroke-width="0.65" fill="url(#dots)"/>
<rect x="390.5" y="297.5" width="20" height="50" stroke="#555" stroke-width="1" fill="url(#hatch)"/>
<line x1="410.2" y1="322.5" x2="416" y2="322.5" stroke-width="1.04"/>
<rect x="186.5" y="250.5" width="81" height="17" stroke-width="1.17"/>
<path d="M186.8 250 V267.3 H267.2 V250 H265.6 V265.6 H188.4 V250Z" stroke-width="0.78" fill="#ababab"/>
<polyline points="205.2,250 200.6,253.6 255.4,253.6 251,250" stroke-width="1.04"/>
<rect x="199.5" y="253.5" width="56" height="3" stroke-width="1.04"/>
<line x1="199.6" y1="255.5" x2="255.2" y2="255.5" stroke="#333" stroke-width="1.3"/>
<g transform="rotate(-45 164.9 262.1)">
<rect x="155.8" y="257.6" width="18.2" height="9" stroke="#161616" stroke-width="0.5" fill="#161616"/>
<line x1="157" y1="264.5" x2="173.4" y2="264.5" stroke="#eee" stroke-width="1.5" stroke-dasharray="0.9 0.6"/>
<line x1="161" y1="261.5" x2="166" y2="261.5" stroke="#999" stroke-width="0.6"/>
</g>
<path d="M182.5 301.2 H166 Q155.4 301.2 155.4 312 V345 Q155.4 355.6 166 355.6 H182.5" stroke-width="1.17"/>
<path d="M163.6 308.4 H181 Q184 308.2 184 304.7 Q184 301.2 181 301.2" stroke-width="1.17"/>
<path d="M163.6 348.4 H181 Q184 348.6 184 352.1 Q184 355.6 181 355.6" stroke-width="1.17"/>
<path d="M184 304.4 H187.5 V352.3 H184" stroke-width="1.17"/>
<line x1="163.5" y1="305" x2="163.5" y2="352" stroke-width="1.17"/>
<line x1="163.6" y1="328.5" x2="187.5" y2="328.5" stroke-width="1.17"/>
<path d="M163.8 309 Q169.6 318 164.6 327.6 M164.6 309.5 Q167 318 164 327.6" stroke="#444" stroke-width="0.8"/>
<path d="M163.8 329 Q169.6 338 164.6 347.6 M164.6 329.5 Q167 338 164 347.6" stroke="#444" stroke-width="0.8"/>
<path d="M158.5 304.5 L163.6 308.4 M158.5 352.3 L163.6 348.4" stroke-width="0.78"/>
<ellipse cx="227.7" cy="326.9" rx="19.3" ry="12.6" stroke="#555" stroke-width="1.6"/>
<ellipse cx="227.7" cy="326.9" rx="17.8" ry="11.2" stroke-width="0.65"/>
<path d="M212 325 Q218 322 222 318.5 T231 315.5" stroke-width="1.04"/>
<path d="M213 329.5 Q222 325 228 320.5 T240 316.3" stroke-width="1.04"/>
<path d="M224 338 Q230 331 237 327 T246.5 321" stroke-width="1.04"/>
<path d="M241 336.5 Q244 333 246 331.5" stroke-width="1.04"/>
<path d="M210.5 322 Q213 319 216.5 318" stroke-width="1.04"/>
<g transform="rotate(15 283.5 328.5)">
<path d="M270 312.5 H288 Q298.5 312.5 298.5 323 V334 Q298.5 344.5 288 344.5 H270" stroke-width="1.17"/>
<path d="M291.5 318.2 H273 Q270 318.2 270 315.3 Q270 312.5 273 312.5" stroke-width="1.17"/>
<path d="M291.5 338.8 H273 Q270 338.8 270 341.7 Q270 344.5 273 344.5" stroke-width="1.17"/>
<path d="M270 315.3 H267.8 V341.7 H270" stroke-width="1.17"/>
<line x1="291.5" y1="316" x2="291.5" y2="341" stroke-width="1.17"/>
<path d="M291.3 319 Q286 328.5 290.6 338 M290.6 319.5 Q288.4 328.5 291.2 338" stroke="#444" stroke-width="0.8"/>
<path d="M296 315.5 L291.5 318.2 M296 341.5 L291.5 338.8" stroke-width="0.78"/>
</g>
<path d="M184.7 364 V380 Q184.7 390.7 196 390.7 H258 Q269.3 390.7 269.3 380 V364" stroke-width="1.17"/>
<path d="M191.2 381.2 V363 Q191.2 359.6 188 359.6 Q184.7 359.6 184.7 363.5" stroke-width="1.17"/>
<path d="M262.8 381.2 V363 Q262.8 359.6 266 359.6 Q269.3 359.6 269.3 363.5" stroke-width="1.17"/>
<line x1="188" y1="359.5" x2="266" y2="359.5" stroke-width="1.17"/>
<line x1="191.2" y1="381.5" x2="262.8" y2="381.5" stroke-width="1.17"/>
<line x1="214.5" y1="359.2" x2="214.5" y2="381.2" stroke-width="1.17"/>
<line x1="240.5" y1="359.2" x2="240.5" y2="381.2" stroke-width="1.17"/>
<path d="M192.5 381 Q202.75 374.5 213 381 M193.5 380.6 Q202.75 377.2 212 380.6" stroke="#444" stroke-width="0.8"/>
<path d="M215 381 Q227 374.5 239 381 M216 380.6 Q227 377.2 238 380.6" stroke="#444" stroke-width="0.8"/>
<path d="M241.2 381 Q251.6 374.5 262 381 M242.2 380.6 Q251.6 377.2 261 380.6" stroke="#444" stroke-width="0.8"/>
<path d="M187 387.5 L191.2 381.2 M267 387.5 L262.8 381.2" stroke-width="0.78"/>
<line x1="269.3" y1="381.5" x2="276.1" y2="381.5" stroke-width="1.04"/>
<rect x="158.9" y="364" width="19" height="19" stroke="#707070" stroke-width="1.7"/>
<circle cx="170.3" cy="375.3" r="5.7" stroke="#777" stroke-width="0.8"/>
<path d="M170.3 371.77 L171.22 374.38 L173.83 375.3 L171.22 376.22 L170.3 378.83 L169.38 376.22 L166.77 375.3 L169.38 374.38Z" stroke="#555" stroke-width="0.5" fill="#666"/>
<circle cx="170.3" cy="375.3" r="0.5" fill="#bbb"/>
<rect x="276.8" y="364" width="18.3" height="19" stroke="#707070" stroke-width="1.7"/>
<circle cx="284" cy="375.2" r="5.7" stroke="#777" stroke-width="0.8"/>
<path d="M284 371.67 L284.92 374.28 L287.53 375.2 L284.92 376.12 L284 378.73 L283.08 376.12 L280.47 375.2 L283.08 374.28Z" stroke="#555" stroke-width="0.5" fill="#666"/>
<circle cx="284" cy="375.2" r="0.5" fill="#bbb"/>
<ellipse cx="293" cy="361.3" rx="1.8" ry="2.4" stroke="#222" stroke-width="1.1"/>
<path d="M287.8 366 L290.4 364.2 L292.4 363.4 L295.4 364 L296.2 367 L295.2 372 L291.6 373.2 L289.2 371.2 L289.4 368.6 L287.6 367.6Z" stroke="#2c2c2c" stroke-width="0.6" fill="#2c2c2c"/>
<circle cx="290" cy="366.3" r="0.8" fill="#fff"/>
<circle cx="291.4" cy="371.2" r="0.8" fill="#fff"/>
<circle cx="294.1" cy="368.2" r="0.5" fill="#ddd"/>
<rect x="87.5" y="367.5" width="23" height="23" stroke="#444" stroke-width="0.9" stroke-dasharray="1.4 0.8"/>
<rect x="89.5" y="368.5" width="20" height="17" stroke-width="0.78"/>
<rect x="88.5" y="385.5" width="21" height="5" stroke="#222" stroke-width="0.5" fill="#333"/>
<line x1="90" y1="387.5" x2="108.5" y2="387.5" stroke="#ddd" stroke-width="0.6" stroke-dasharray="2 1"/>
</g>
<line x1="189.7" y1="191.5" x2="271" y2="191.5" stroke-width="1.04"/>
<text stroke="none" fill="#333" x="219.5" y="189.75" textLength="20.5" lengthAdjust="spacingAndGlyphs" font-size="12.3">1800</text>
<line x1="279.5" y1="112.3" x2="279.5" y2="200.2" stroke-width="1.04"/>
<line x1="273" y1="194.5" x2="282" y2="194.5" stroke-width="1.04"/>
<text stroke="none" fill="#333" transform="translate(277.62 167.5) rotate(-90)" textLength="21.6" lengthAdjust="spacingAndGlyphs" font-size="12.3">2000</text>
<line x1="282" y1="156.5" x2="316.8" y2="156.5" stroke-width="1.04"/>
<text stroke="none" fill="#333" x="291" y="154.95" textLength="16" lengthAdjust="spacingAndGlyphs" font-size="12.3">600</text>
<line x1="326.5" y1="113" x2="326.5" y2="145" stroke-width="1.04"/>
<text stroke="none" fill="#333" transform="translate(324.42 137.6) rotate(-90)" textLength="15.5" lengthAdjust="spacingAndGlyphs" font-size="12.3">550</text>
<line x1="312.5" y1="147.5" x2="358.3" y2="147.5" stroke-width="1.04"/>
<line x1="352.5" y1="143.4" x2="352.5" y2="151.4" stroke-width="1.04"/>
<text stroke="none" fill="#333" x="327.5" y="145.65" textLength="14.9" lengthAdjust="spacingAndGlyphs" font-size="12.3">900</text>
<line x1="348.2" y1="114.5" x2="394.8" y2="114.5" stroke-width="1.04"/>
<line x1="353.5" y1="109" x2="353.5" y2="117" stroke-width="1.04"/>
<line x1="388.5" y1="109" x2="388.5" y2="117" stroke-width="1.04"/>
<text stroke="none" fill="#333" x="363.7" y="112.55" textLength="15.5" lengthAdjust="spacingAndGlyphs" font-size="12.3">900</text>
<line x1="385.5" y1="113" x2="385.5" y2="158.9" stroke-width="1.04"/>
<text stroke="none" fill="#333" transform="translate(374.48 128.6) rotate(90)" textLength="15" lengthAdjust="spacingAndGlyphs" font-size="12.3">900</text>
<line x1="314.7" y1="209.5" x2="358" y2="209.5" stroke-width="1.04"/>
<line x1="321.5" y1="205" x2="321.5" y2="215" stroke-width="1.04"/>
<line x1="352.5" y1="205" x2="352.5" y2="215" stroke-width="1.04"/>
<text stroke="none" fill="#333" x="327.7" y="208.55" textLength="16.4" lengthAdjust="spacingAndGlyphs" font-size="12.3">810</text>
<line x1="321.5" y1="199" x2="321.5" y2="242.7" stroke-width="1.04"/>
<line x1="319.6" y1="236.5" x2="327.7" y2="236.5" stroke-width="1.04"/>
<text stroke="none" fill="#333" transform="translate(320.62 228.6) rotate(-90)" textLength="15.2" lengthAdjust="spacingAndGlyphs" font-size="12.3">900</text>
<line x1="418.5" y1="112.3" x2="418.5" y2="201.5" stroke-width="1.04"/>
<text stroke="none" fill="#333" transform="translate(416.02 137.1) rotate(-90)" textLength="15" lengthAdjust="spacingAndGlyphs" font-size="12.3">600</text>
<line x1="389.9" y1="147.5" x2="422.6" y2="147.5" stroke-width="1.04"/>
<text stroke="none" fill="#333" x="398.5" y="145.25" textLength="15.1" lengthAdjust="spacingAndGlyphs" font-size="12.3">600</text>
<line x1="412" y1="153.5" x2="466.2" y2="153.5" stroke-width="1.04"/>
<text stroke="none" fill="#333" x="428.3" y="152.25" textLength="20.4" lengthAdjust="spacingAndGlyphs" font-size="12.3">1100</text>
<line x1="429.5" y1="136.8" x2="429.5" y2="207.6" stroke-width="1.04"/>
<line x1="423.4" y1="201.5" x2="434.8" y2="201.5" stroke-width="1.04"/>
<text stroke="none" fill="#333" transform="translate(427.32 181.3) rotate(-90)" textLength="20.3" lengthAdjust="spacingAndGlyphs" font-size="12.3">1600</text>
<line x1="409.5" y1="197" x2="409.5" y2="255" stroke-width="1.04"/>
<text stroke="none" fill="#333" transform="translate(407.82 232.6) rotate(-90)" textLength="19.7" lengthAdjust="spacingAndGlyphs" font-size="12.3">1100</text>
<line x1="361.1" y1="260.5" x2="395.4" y2="260.5" stroke-width="1.04"/>
<line x1="366.5" y1="250" x2="366.5" y2="266" stroke-width="1.04"/>
<line x1="390.5" y1="250" x2="390.5" y2="266" stroke-width="1.04"/>
<text stroke="none" fill="#333" x="370.1" y="258.65" textLength="15.5" lengthAdjust="spacingAndGlyphs" font-size="12.3">600</text>
<line x1="419.5" y1="260.5" x2="462.5" y2="260.5" stroke-width="1.04"/>
<line x1="425.5" y1="252" x2="425.5" y2="266" stroke-width="1.04"/>
<line x1="456.5" y1="252" x2="456.5" y2="266" stroke-width="1.04"/>
<text stroke="none" fill="#333" x="433" y="258.65" textLength="15.9" lengthAdjust="spacingAndGlyphs" font-size="12.3">810</text>
<line x1="462" y1="184.5" x2="497.2" y2="184.5" stroke-width="1.04"/>
<text stroke="none" fill="#333" x="471.9" y="182.95" textLength="16.3" lengthAdjust="spacingAndGlyphs" font-size="12.3">600</text>
<line x1="489.9" y1="166.5" x2="547" y2="166.5" stroke-width="1.04"/>
<line x1="489.9" y1="171.5" x2="547" y2="171.5" stroke-width="1.04"/>
<text stroke="none" fill="#333" x="507" y="168.95" textLength="21.3" lengthAdjust="spacingAndGlyphs" font-size="12.3">1200</text>
<line x1="535.6" y1="194.5" x2="605.4" y2="194.5" stroke-width="1.04"/>
<circle cx="541.4" cy="194.9" r="0.9" fill="#444"/>
<circle cx="599.7" cy="194.9" r="0.9" fill="#444"/>
<text stroke="none" fill="#333" x="559.3" y="192.75" textLength="20.7" lengthAdjust="spacingAndGlyphs" font-size="12.3">1500</text>
<line x1="488.2" y1="242.5" x2="534" y2="242.5" stroke-width="1.04"/>
<line x1="493.5" y1="238" x2="493.5" y2="247" stroke-width="1.04"/>
<line x1="526.5" y1="238" x2="526.5" y2="247" stroke-width="1.04"/>
<text stroke="none" fill="#333" x="502.1" y="241.25" textLength="15.6" lengthAdjust="spacingAndGlyphs" font-size="12.3">870</text>
<line x1="569" y1="254.5" x2="637.7" y2="254.5" stroke-width="1.04"/>
<line x1="574.5" y1="249.8" x2="574.5" y2="259" stroke-width="1.04"/>
<line x1="632.5" y1="249.8" x2="632.5" y2="259" stroke-width="1.04"/>
<text stroke="none" fill="#333" x="593.9" y="252.65" textLength="20.4" lengthAdjust="spacingAndGlyphs" font-size="12.3">1500</text>
<line x1="529.8" y1="281.5" x2="576.4" y2="281.5" stroke-width="1.04"/>
<text stroke="none" fill="#333" x="537.2" y="279.25" textLength="16.3" lengthAdjust="spacingAndGlyphs" font-size="12.3">600</text>
<line x1="570.5" y1="277.4" x2="570.5" y2="346" stroke-width="1.04"/>
<text stroke="none" fill="#333" transform="translate(568.92 322) rotate(-90)" textLength="20.1" lengthAdjust="spacingAndGlyphs" font-size="12.3">1500</text>
<line x1="630.6" y1="319.5" x2="651.9" y2="319.5" stroke-width="1.04"/>
<text stroke="none" fill="#333" x="633.6" y="317.55" textLength="15" lengthAdjust="spacingAndGlyphs" font-size="12.3">450</text>
<line x1="492.9" y1="294.5" x2="531.4" y2="294.5" stroke-width="1.04"/>
<line x1="499.5" y1="289.5" x2="499.5" y2="294.5" stroke-width="1.04"/>
<line x1="526.5" y1="289.5" x2="526.5" y2="294.5" stroke-width="1.04"/>
<text stroke="none" fill="#333" x="505.2" y="292.95" textLength="14.7" lengthAdjust="spacingAndGlyphs" font-size="12.3">700</text>
<line x1="496.5" y1="295.8" x2="496.5" y2="314.6" stroke-width="1.04"/>
<text stroke="none" fill="#333" transform="translate(494.62 311.9) rotate(-90)" textLength="14.4" lengthAdjust="spacingAndGlyphs" font-size="12.3">400</text>
<line x1="343.5" y1="291.5" x2="384.4" y2="291.5" stroke-width="1.04"/>
<line x1="349.5" y1="285.6" x2="349.5" y2="293" stroke-width="1.04"/>
<line x1="379.5" y1="285.6" x2="379.5" y2="293" stroke-width="1.04"/>
<text stroke="none" fill="#333" x="356.9" y="289.05" textLength="15.2" lengthAdjust="spacingAndGlyphs" font-size="12.3">780</text>
<line x1="384.5" y1="291.3" x2="384.5" y2="352.7" stroke-width="1.04"/>
<text stroke="none" fill="#333" transform="translate(374.88 311.9) rotate(90)" textLength="20.2" lengthAdjust="spacingAndGlyphs" font-size="12.3">1300</text>
<line x1="181.2" y1="280.5" x2="273.9" y2="280.5" stroke-width="1.04"/>
<line x1="186.5" y1="273.5" x2="186.5" y2="286.5" stroke-width="1.04"/>
<line x1="267.5" y1="273.5" x2="267.5" y2="286.5" stroke-width="1.04"/>
<text stroke="none" fill="#333" x="215.9" y="278.75" textLength="21.5" lengthAdjust="spacingAndGlyphs" font-size="12.3">2100</text>
<line x1="280.5" y1="247.9" x2="280.5" y2="269.5" stroke-width="1.04"/>
<line x1="277" y1="250.5" x2="287" y2="250.5" stroke-width="1.04"/>
<line x1="277" y1="267.5" x2="287" y2="267.5" stroke-width="1.04"/>
<text stroke="none" fill="#333" transform="translate(278.62 267.5) rotate(-90)" textLength="16.1" lengthAdjust="spacingAndGlyphs" font-size="12.3">450</text>
</svg>
</body>
</html>
